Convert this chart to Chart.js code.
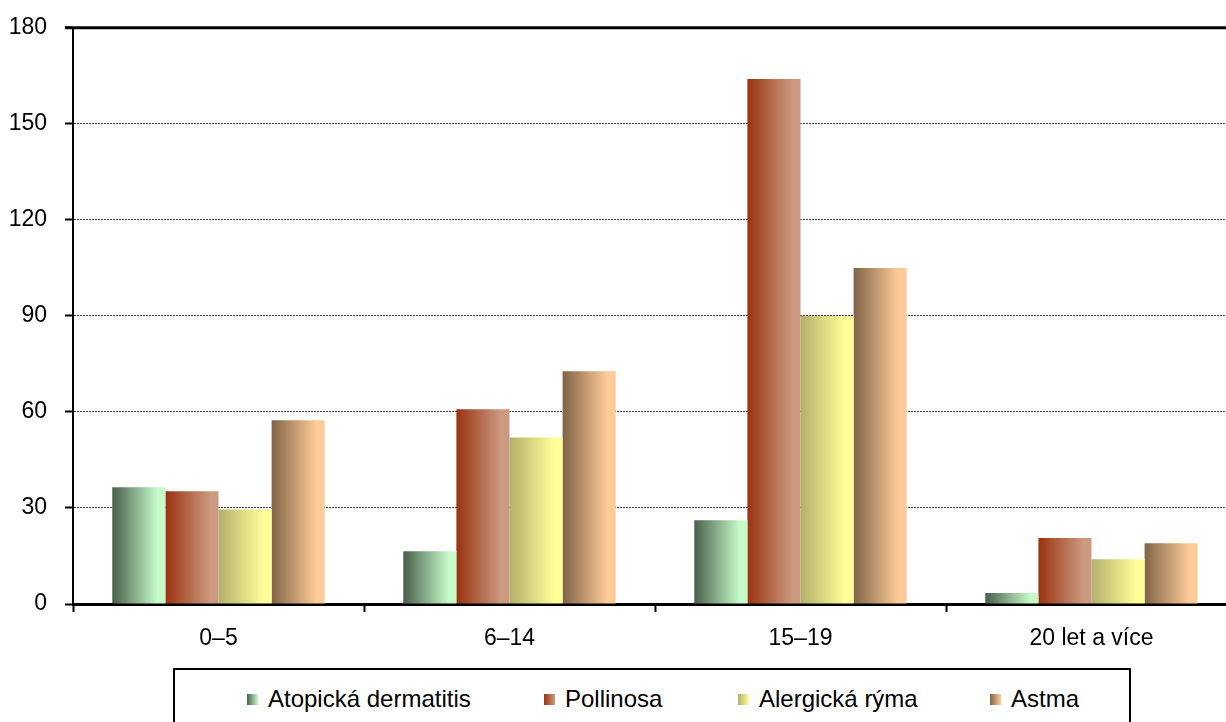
<!DOCTYPE html>
<html>
<head>
<meta charset="utf-8">
<script src="https://cdn.jsdelivr.net/npm/chart.js@4/dist/chart.umd.min.js"></script>
<style>
  body { margin: 0; background: #fff; font-family: "Liberation Sans", Arial, sans-serif; }
  #wrap { position: relative; width: 1226px; height: 722px; overflow: hidden; }
  #chart { position: absolute; left: 0; top: -4px; }
  #legend {
    position: absolute; left: 173px; top: 668px; width: 958px; height: 70px;
    border: 2px solid #000; box-sizing: border-box; background: #fff;
  }
  .item { position: absolute; top: 15px; font-size: 24px; line-height: 28px; color: #000; white-space: nowrap; }
  .sw { display: inline-block; width: 11px; height: 11px; margin-right: 10px; vertical-align: 2px; }
</style>
</head>
<body>
<div id="wrap">
  <canvas id="chart" width="1240" height="726"></canvas>
  <div id="legend"></div>
</div>
<script>
// data
const ageGroups = ["0–5", "6–14", "15–19", "20 let a více"];
const seriesNames = ["Atopická dermatitis", "Pollinosa", "Alergická rýma", "Astma"];
const atopicka = [36.5, 16.5, 26.2, 3.4];
const pollinosa = [35.2, 60.8, 164, 20.6];
const ryma = [29.5, 52, 90, 14];
const astma = [57.4, 72.7, 105, 19];
const yTicks = [0, 30, 60, 90, 120, 150, 180];

// dark -> light shade for each series
const shades = [
  ["#4a5f4b", "#c6fac9"],
  ["#993311", "#cc9a80"],
  ["#b2b06c", "#ffff99"],
  ["#806446", "#ffcc99"]
];
const legendLeft = [72, 369, 563, 815];

const values = [atopicka, pollinosa, ryma, astma];

// per-bar horizontal gradient, set right before drawing
const barGradient = {
  id: "barGradient",
  beforeDatasetsDraw(chart) {
    const ctx = chart.ctx;
    chart.data.datasets.forEach((ds, i) => {
      chart.getDatasetMeta(i).data.forEach((el) => {
        const g = ctx.createLinearGradient(el.x - el.width / 2, 0, el.x + el.width / 2, 0);
        g.addColorStop(0, shades[i][0]);
        g.addColorStop(0.85, shades[i][1]);
        g.addColorStop(1, shades[i][1]);
        el.options = Object.assign({}, el.options, { backgroundColor: g });
      });
    });
  },
  afterDraw(chart) {
    const { ctx, chartArea } = chart;
    ctx.save();
    ctx.strokeStyle = "#000";
    ctx.lineWidth = 3;
    ctx.beginPath();
    ctx.moveTo(chartArea.left - 8, chartArea.top);
    ctx.lineTo(chartArea.right, chartArea.top);
    ctx.stroke();
    ctx.restore();
  }
};

new Chart(document.getElementById("chart"), {
  type: "bar",
  data: {
    labels: ageGroups,
    datasets: seriesNames.map((name, i) => ({
      label: name,
      data: values[i],
      backgroundColor: shades[i][0],
      borderWidth: 0,
      categoryPercentage: 0.73,
      barPercentage: 1.0
    }))
  },
  options: {
    responsive: false,
    animation: false,
    layout: { padding: { top: 23, right: 3, left: 0, bottom: 0 } },
    plugins: { legend: { display: false }, tooltip: { enabled: false } },
    scales: {
      x: {
        afterFit: (s) => { s.height = 118; },
        grid: { drawOnChartArea: false, drawTicks: true, tickLength: 8, tickColor: "#000", tickWidth: 2, offset: true },
        border: { color: "#000", width: 3 },
        ticks: { color: "#000", font: { family: "Liberation Sans", size: 23 }, padding: 13, maxRotation: 0 }
      },
      y: {
        min: 0,
        max: 180,
        afterFit: (s) => { s.width = 73; },
        afterBuildTicks: (s) => { s.ticks = yTicks.map((v) => ({ value: v })); },
        grid: { color: "#444", lineWidth: 1, tickLength: 8, tickColor: "#000", tickWidth: 2 },
        border: { color: "#000", width: 2, dash: [2, 1] },
        ticks: { color: "#000", font: { family: "Liberation Sans", size: 23 }, padding: 18 }
      }
    }
  },
  plugins: [barGradient]
});

const legend = document.getElementById("legend");
seriesNames.forEach((name, i) => {
  const item = document.createElement("div");
  item.className = "item";
  item.style.left = legendLeft[i] + "px";
  item.innerHTML = `<span class="sw" style="background:linear-gradient(to right, ${shades[i][0]}, ${shades[i][1]})"></span>${name}`;
  legend.appendChild(item);
});
</script>
</body>
</html>
